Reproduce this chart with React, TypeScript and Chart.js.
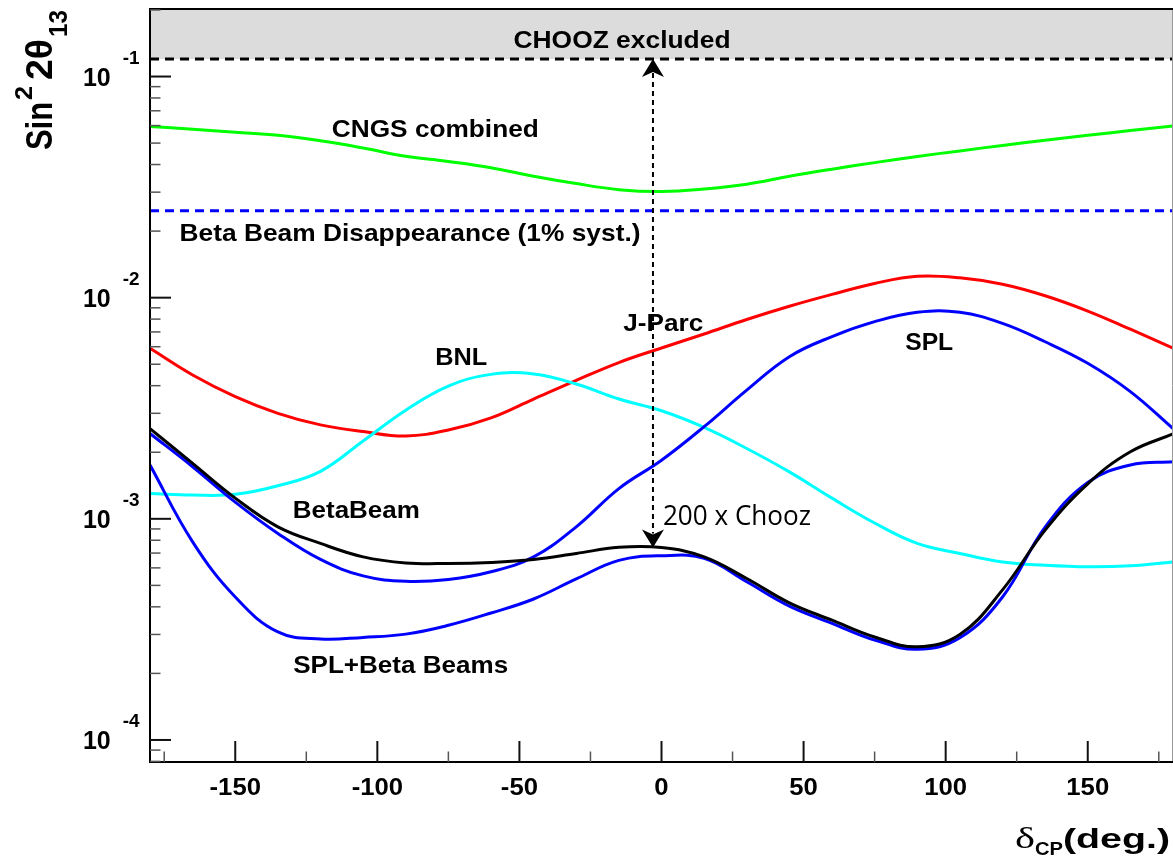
import React, { useEffect, useRef } from "react";
import { Chart, registerables } from "chart.js";

Chart.register(...registerables);

// ---------------- data ----------------
const DELTA_CP = [-180, -165, -150, -135, -120, -105, -90, -75, -60, -45, -30, -15, 0, 15, 30, 45, 60, 75, 90, 105, 120, 135, 150, 165, 180];

const CNGS = [0.0595, 0.0578, 0.056, 0.0542, 0.0512, 0.0475, 0.0436, 0.0413, 0.0387, 0.0354, 0.0328, 0.0308, 0.0302, 0.031, 0.0326, 0.0354, 0.0381, 0.0408, 0.0435, 0.0461, 0.0488, 0.0515, 0.0542, 0.057, 0.0598];
const JPARC = [5.9e-3, 4.47e-3, 3.57e-3, 3.0e-3, 2.66e-3, 2.48e-3, 2.37e-3, 2.52e-3, 2.86e-3, 3.48e-3, 4.23e-3, 5.09e-3, 5.92e-3, 6.85e-3, 7.97e-3, 9.15e-3, 1.035e-2, 1.16e-2, 1.25e-2, 1.23e-2, 1.15e-2, 1.02e-2, 8.7e-3, 7.2e-3, 5.92e-3];
const BNL = [1.3e-3, 1.28e-3, 1.29e-3, 1.41e-3, 1.64e-3, 2.25e-3, 3.1e-3, 3.98e-3, 4.5e-3, 4.52e-3, 4.07e-3, 3.48e-3, 3.08e-3, 2.59e-3, 2.08e-3, 1.63e-3, 1.24e-3, 9.57e-4, 7.74e-4, 6.97e-4, 6.38e-4, 6.17e-4, 6.07e-4, 6.13e-4, 6.38e-4];
const SPL = [2.43e-3, 1.72e-3, 1.19e-3, 8.59e-4, 6.55e-4, 5.52e-4, 5.22e-4, 5.32e-4, 5.76e-4, 6.73e-4, 9.2e-4, 1.37e-3, 1.84e-3, 2.61e-3, 3.82e-3, 5.41e-3, 6.67e-3, 7.79e-3, 8.59e-3, 8.59e-3, 7.65e-3, 6.32e-3, 5.05e-3, 3.76e-3, 2.56e-3];
const SPL_BETA = [1.75e-3, 7.87e-4, 4.43e-4, 3.08e-4, 2.86e-4, 2.91e-4, 3.01e-4, 3.3e-4, 3.75e-4, 4.34e-4, 5.35e-4, 6.49e-4, 6.81e-4, 6.62e-4, 5.19e-4, 4.03e-4, 3.37e-4, 2.83e-4, 2.57e-4, 2.9e-4, 4.43e-4, 9.17e-4, 1.46e-3, 1.75e-3, 1.81e-3];
const BETABEAM = [2.56e-3, 1.78e-3, 1.24e-3, 9.2e-4, 7.74e-4, 6.73e-4, 6.32e-4, 6.28e-4, 6.35e-4, 6.55e-4, 6.97e-4, 7.43e-4, 7.41e-4, 6.73e-4, 5.37e-4, 4.17e-4, 3.48e-4, 2.92e-4, 2.64e-4, 3.0e-4, 4.77e-4, 8.89e-4, 1.44e-3, 2.01e-3, 2.42e-3];

const CHOOZ_LIMIT = 0.12;
const BB_DISAPPEARANCE = 0.0247;
const ARROW_DCP = -3;
const ARROW_TOP = 0.12;
const ARROW_BOTTOM = 7.41e-4;

const X_RANGE = [-180, 180];
const Y_RANGE = [7.95e-5, 0.202];
const X_MAJOR = [-150, -100, -50, 0, 50, 100, 150];
const X_MINOR = [-175, -125, -75, -25, 25, 75, 125, 175];
const Y_DECADES = [-4, -3, -2, -1];

// ---------------- styling ----------------
const W = 1173;
const H = 856;
const SANS = "'Liberation Sans', Arial, Helvetica, sans-serif";

type Label = { text: string; x: number; y: number; width: number; size: number; weight?: string; family?: string; align?: "center" | "left" };

const LABELS: Label[] = [
  { text: "CHOOZ excluded", x: -13.9, y: 0.1466, width: 217, size: 23 },
  { text: "CNGS combined", x: -79.6, y: 0.0584, width: 207, size: 24 },
  { text: "Beta Beam Disappearance (1% syst.)", x: -88.5, y: 0.01972, width: 461, size: 24 },
  { text: "J-Parc", x: 0.6, y: 0.00773, width: 80, size: 24 },
  { text: "BNL", x: -70.5, y: 0.00545, width: 52, size: 24 },
  { text: "BetaBeam", x: -107.4, y: 0.0011, width: 127, size: 24 },
  { text: "SPL+Beta Beams", x: -91.8, y: 2.2e-4, width: 215, size: 24 },
  { text: "SPL", x: 94.2, y: 0.00637, width: 48, size: 24 },
  { text: "200 x Chooz", x: 0.5, y: 1.04e-3, width: 148, size: 28, weight: "normal", family: "'Open Sans', 'Noto Sans', sans-serif", align: "left" },
];

function drawText(
  ctx: CanvasRenderingContext2D,
  text: string,
  x: number,
  yBase: number,
  font: string,
  opts: { width?: number; sx?: number; align?: "left" | "center" | "right"; color?: string } = {}
) {
  ctx.save();
  ctx.font = font;
  const w = ctx.measureText(text).width;
  const sx = opts.width ? opts.width / w : opts.sx ?? 1;
  const dw = w * sx;
  const align = opts.align ?? "left";
  const left = align === "center" ? x - dw / 2 : align === "right" ? x - dw : x;
  ctx.translate(left, yBase);
  ctx.scale(sx, 1);
  ctx.textAlign = "left";
  ctx.textBaseline = "alphabetic";
  ctx.fillStyle = opts.color ?? "#000";
  ctx.fillText(text, 0, 0);
  ctx.restore();
  return dw;
}

function arrowHead(ctx: CanvasRenderingContext2D, x: number, tipY: number, dir: number) {
  const len = 18;
  const half = 11;
  const notch = 5;
  const back = tipY - dir * len;
  ctx.beginPath();
  ctx.moveTo(x, tipY);
  ctx.lineTo(x - half, back);
  ctx.lineTo(x, back + dir * notch);
  ctx.lineTo(x + half, back);
  ctx.closePath();
  ctx.fill();
}

const overlayPlugin = {
  id: "rootOverlay",
  afterDatasetsDraw(chart: any) {
    const ctx: CanvasRenderingContext2D = chart.ctx;
    const xs = chart.scales.x;
    const ys = chart.scales.y;
    const ax = xs.getPixelForValue(ARROW_DCP);
    const yTop = ys.getPixelForValue(ARROW_TOP);
    const yBot = ys.getPixelForValue(ARROW_BOTTOM);
    ctx.save();
    ctx.strokeStyle = "#000";
    ctx.fillStyle = "#000";
    ctx.lineWidth = 2;
    ctx.setLineDash([5, 4]);
    ctx.beginPath();
    ctx.moveTo(ax, yTop + 14);
    ctx.lineTo(ax, yBot - 14);
    ctx.stroke();
    ctx.setLineDash([]);
    arrowHead(ctx, ax, yTop, -1);
    arrowHead(ctx, ax, yBot, 1);
    ctx.restore();
  },
  afterDraw(chart: any) {
    const ctx: CanvasRenderingContext2D = chart.ctx;
    const xs = chart.scales.x;
    const ys = chart.scales.y;
    const { left, right, top, bottom } = chart.chartArea;
    ctx.save();

    // frame
    ctx.strokeStyle = "#999";
    ctx.lineWidth = 1;
    ctx.beginPath();
    ctx.moveTo(right - 0.5, top);
    ctx.lineTo(right - 0.5, bottom);
    ctx.stroke();
    ctx.strokeStyle = "#000";
    ctx.lineWidth = 2;
    ctx.beginPath();
    ctx.moveTo(left, top);
    ctx.lineTo(right, top);
    ctx.moveTo(left, top - 1);
    ctx.lineTo(left, bottom + 1);
    ctx.moveTo(left - 1, bottom);
    ctx.lineTo(right, bottom);
    ctx.stroke();

    // x ticks
    ctx.lineWidth = 2;
    ctx.strokeStyle = "#111";
    for (const v of X_MAJOR) {
      const px = xs.getPixelForValue(v);
      ctx.beginPath();
      ctx.moveTo(px, bottom);
      ctx.lineTo(px, bottom - 21);
      ctx.stroke();
    }
    ctx.lineWidth = 1.5;
    ctx.strokeStyle = "#555";
    for (const v of X_MINOR) {
      const px = xs.getPixelForValue(v);
      ctx.beginPath();
      ctx.moveTo(px, bottom);
      ctx.lineTo(px, bottom - 10.5);
      ctx.stroke();
    }

    // y ticks
    for (let n = -5; n <= 0; n++) {
      for (let m = 1; m <= 9; m++) {
        const v = m * Math.pow(10, n);
        if (v <= Y_RANGE[0] || v >= Y_RANGE[1]) continue;
        const py = ys.getPixelForValue(v);
        const major = m === 1;
        ctx.lineWidth = major ? 2 : 1.5;
        ctx.strokeStyle = major ? "#111" : "#555";
        ctx.beginPath();
        ctx.moveTo(left, py);
        ctx.lineTo(left + (major ? 21 : 10.5), py);
        ctx.stroke();
      }
    }

    // x tick labels
    for (const v of X_MAJOR) {
      const px = xs.getPixelForValue(v);
      drawText(ctx, String(v), px, bottom + 33, `bold 24px ${SANS}`, { align: "center", sx: 1.07 });
    }

    // y tick labels (10^n)
    for (const n of Y_DECADES) {
      const py = ys.getPixelForValue(Math.pow(10, n));
      drawText(ctx, "10", 110.7, py + 9, `bold 25px ${SANS}`, { align: "right" });
      drawText(ctx, String(n), 122.7, py - 12.8, `bold 18px ${SANS}`, { align: "left", sx: 1.05 });
    }

    // y title  Sin^2 2θ_13 (rotated)
    ctx.save();
    ctx.translate(52, 150);
    ctx.rotate(-Math.PI / 2);
    drawText(ctx, "Sin", 0, 0, `bold 36px ${SANS}`, { width: 48 });
    drawText(ctx, "2", 50, -20.3, `bold 23px ${SANS}`, { width: 14 });
    drawText(ctx, "2\u03b8", 70, 0, `bold 36px ${SANS}`, { width: 41 });
    drawText(ctx, "13", 113, 14.7, `bold 26px ${SANS}`, { width: 27 });
    ctx.restore();

    // x title δ_CP(deg.)
    drawText(ctx, "\u03b4", 1015, 848, `30px 'Liberation Serif', 'DejaVu Serif', serif`, { width: 20 });
    drawText(ctx, "CP", 1035, 855, `bold 18px ${SANS}`, { width: 28 });
    drawText(ctx, "(deg.)", 1063, 848, `bold 28px ${SANS}`, { width: 107 });

    // curve labels
    for (const lb of LABELS) {
      const px = xs.getPixelForValue(lb.x);
      const py = ys.getPixelForValue(lb.y);
      const fam = lb.family ?? SANS;
      const wt = lb.weight ?? "bold";
      drawText(ctx, lb.text, px, py + 0.358 * lb.size, `${wt} ${lb.size}px ${fam}`, {
        width: lb.width,
        align: lb.align ?? "center",
      });
    }

    ctx.restore();
  },
};

function series(values: number[]) {
  return DELTA_CP.map((x, i) => ({ x, y: values[i] }));
}

export default function App() {
  const canvasRef = useRef<HTMLCanvasElement | null>(null);

  useEffect(() => {
    const canvas = canvasRef.current;
    if (!canvas) return;
    const line = (label: string, values: number[], color: string, order: number) => ({
      label,
      data: series(values),
      borderColor: color,
      backgroundColor: color,
      borderWidth: 3,
      pointRadius: 0,
      tension: 0.4,
      fill: false,
      order,
    });
    const chart = new Chart(canvas, {
      type: "line",
      data: {
        datasets: [
          {
            label: "CHOOZ excluded",
            data: [
              { x: X_RANGE[0], y: CHOOZ_LIMIT },
              { x: X_RANGE[1], y: CHOOZ_LIMIT },
            ],
            borderColor: "#000",
            backgroundColor: "#dcdcdc",
            borderWidth: 3,
            borderDash: [9, 6],
            pointRadius: 0,
            fill: "end",
            order: 20,
          },
          {
            label: "Beta Beam Disappearance (1% syst.)",
            data: [
              { x: X_RANGE[0], y: BB_DISAPPEARANCE },
              { x: X_RANGE[1], y: BB_DISAPPEARANCE },
            ],
            borderColor: "#0000ff",
            borderWidth: 3,
            borderDash: [9, 6],
            pointRadius: 0,
            fill: false,
            order: 10,
          },
          line("CNGS combined", CNGS, "#00ff00", 9),
          line("J-Parc", JPARC, "#ff0000", 8),
          line("BNL", BNL, "#00ffff", 7),
          line("SPL", SPL, "#0000ff", 6),
          line("SPL+Beta Beams", SPL_BETA, "#0000ff", 5),
          line("BetaBeam", BETABEAM, "#000000", 4),
        ],
      },
      options: {
        responsive: false,
        animation: false,
        devicePixelRatio: 1,
        layout: { padding: { left: 150, top: 9, right: 0, bottom: H - 762 } },
        plugins: {
          legend: { display: false },
          tooltip: { enabled: false },
          title: { display: false },
        },
        events: [],
        scales: {
          x: { type: "linear", min: X_RANGE[0], max: X_RANGE[1], display: false },
          y: { type: "logarithmic", min: Y_RANGE[0], max: Y_RANGE[1], display: false },
        },
      },
      plugins: [overlayPlugin],
    });
    return () => chart.destroy();
  }, []);

  return (
    <div style={{ position: "absolute", left: 0, top: 0, width: W, height: H, background: "#fff" }}>
      <canvas ref={canvasRef} width={W} height={H} style={{ display: "block" }} />
    </div>
  );
}
